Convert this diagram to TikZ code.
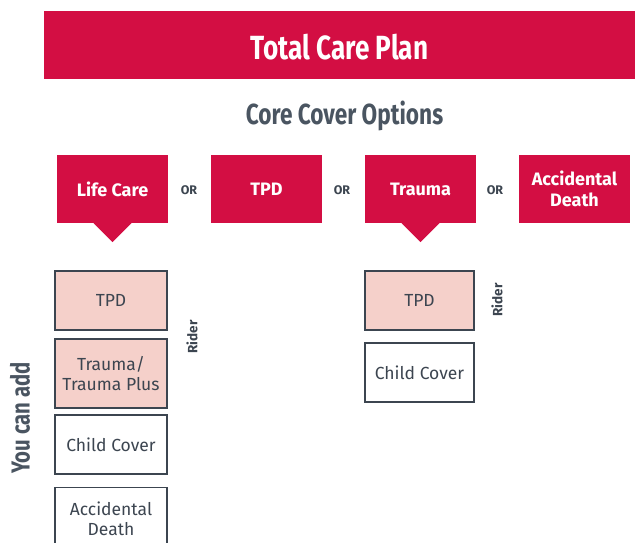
\documentclass[tikz,border=0pt]{standalone}
\usepackage{fontspec}
\setmainfont{Fira Sans}
\newfontfamily\condfont[FakeStretch=0.78]{Fira Sans}
\definecolor{brandred}{HTML}{D30E43}
\definecolor{pinkfill}{HTML}{F5D0CA}
\definecolor{darkgray}{HTML}{3C4550}
\definecolor{headgray}{HTML}{4A5561}
\tikzset{
  redbox/.style={fill=brandred, text=white, minimum width=111pt, minimum height=68pt, inner sep=0pt, align=center, font=\bfseries\fontsize{18}{21}\selectfont},
  orlabel/.style={text=darkgray, font=\bfseries\fontsize{12.5}{14}\selectfont, inner sep=0pt},
  addbox/.style={draw=darkgray, line width=1.2pt, minimum width=112pt, inner sep=0pt, align=center, text=darkgray, font=\fontsize{17.5}{20.5}\selectfont},
  riderlabel/.style={rotate=90, text=darkgray, font=\bfseries\fontsize{13.5}{15}\selectfont, inner sep=0pt}
}
\begin{document}
\begin{tikzpicture}[x=1pt,y=-1pt]
\useasboundingbox (0,0) rectangle (635,542);
\clip (0,0) rectangle (635,542);
\node[fill=brandred, text=white, minimum width=591pt, minimum height=68pt, inner sep=0pt, text height=28pt, text depth=0pt, font=\condfont\bfseries\fontsize{33.5}{36}\selectfont] (title) at (339.5,45) {Total Care Plan};
\node[text=headgray, inner sep=0pt, text depth=0pt, font=\condfont\bfseries\fontsize{29}{32}\selectfont] (core) at (344.5,113) {Core Cover Options};
\node[redbox] (lifecare) at (112.5,189) {Life Care};
\node[redbox] (tpd) at (266.5,189) {TPD};
\node[redbox] (trauma) at (420.5,189) {Trauma};
\node[redbox] (accdeath) at (574.5,189) {Accidental\\Death};
\node[orlabel] (or1) at (189,190) {OR};
\node[orlabel] (or2) at (342,190) {OR};
\node[orlabel] (or3) at (495,190) {OR};
\fill[brandred] ([xshift=-19pt]lifecare.south) -- ([xshift=19pt]lifecare.south) -- ([yshift=-19pt]lifecare.south) -- cycle;
\fill[brandred] ([xshift=-19pt]trauma.south) -- ([xshift=19pt]trauma.south) -- ([yshift=-19pt]trauma.south) -- cycle;
% left column
\node[addbox, fill=pinkfill, minimum height=59pt] (ltpd) at (111,300.5) {TPD};
\node[addbox, fill=pinkfill, minimum height=69pt] (ltrauma) at (111,373.5) {Trauma/\\Trauma Plus};
\node[addbox, fill=white, minimum height=59pt] (lchild) at (111,444.5) {Child Cover};
\node[addbox, fill=white, minimum height=62pt, anchor=north] (lacc) at (111,487) {Accidental\\Death};
\node[riderlabel] (lrider) at (192,337) {Rider};
\node[rotate=90, text=headgray, inner sep=0pt, font=\condfont\bfseries\fontsize{26}{30}\selectfont] (youcan) at (20,418) {You can add};
% right column
\node[addbox, fill=pinkfill, minimum width=109pt, minimum height=59pt] (rtpd) at (419.5,300.5) {TPD};
\node[addbox, fill=white, minimum width=109pt, minimum height=59pt] (rchild) at (419.5,372.5) {Child Cover};
\node[riderlabel] (rrider) at (497,300) {Rider};
\end{tikzpicture}
\end{document}
